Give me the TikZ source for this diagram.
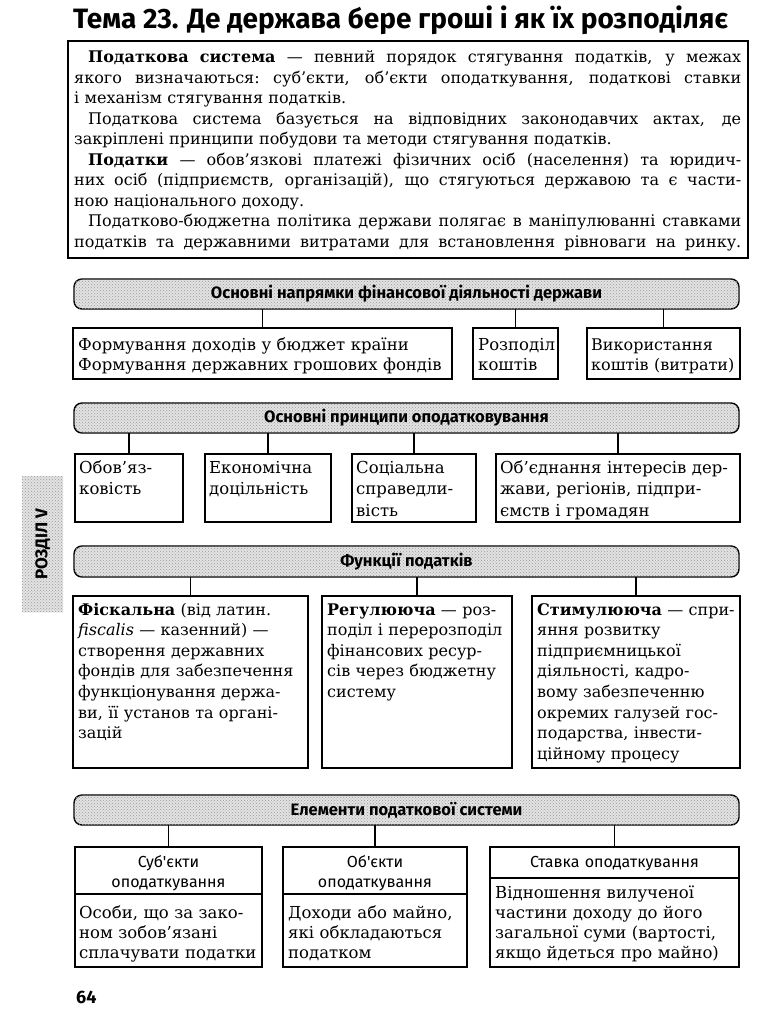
\documentclass[tikz,border=0pt]{standalone}
\usepackage{fontspec}
\setmainfont{DejaVu Serif}
\newfontfamily\hsans{Fira Sans}
\usetikzlibrary{patterns}
\newcommand\jl[1]{\leavevmode\hbox to 667pt{\spaceskip=0.3em plus 1fil\xspaceskip=0.32em plus 1fil\relax #1}}
\newcommand\jli[1]{\leavevmode\hbox to 667pt{\spaceskip=0.3em plus 1fil\xspaceskip=0.32em plus 1fil\relax\hskip14pt #1}}
\begin{document}
\begin{tikzpicture}[x=1pt,y=1pt,
  bar/.style={draw, line width=1.4pt, rounded corners=8pt, fill=gray!22,
    postaction={pattern=crosshatch dots, pattern color=black!40},
    anchor=north west, inner sep=0pt, outer sep=0pt, minimum height=30pt, minimum width=665pt},
  bartext/.style={font=\hsans\bfseries\fontsize{16.5}{18}\selectfont, inner sep=1pt},
  box/.style={draw, line width=1.1pt, anchor=north west, inner sep=0pt, outer sep=0pt},
  conn/.style={line width=1.2pt},
  txt/.style={anchor=base west, inner sep=0pt, text width=#1, align=left,
    font=\fontsize{16.5}{20.6}\selectfont},
  ttl/.style={anchor=base, inner sep=0pt, text width=#1, align=center,
    font=\hsans\fontsize{16}{20}\selectfont}
]
\fill[white] (0,0) rectangle (765,-1024);
\useasboundingbox (0,0) rectangle (765,-1024);

% title
\node[anchor=base west, inner sep=0pt, font=\hsans\bfseries\fontsize{28}{30}\selectfont] (title) at (73,-29) {Тема 23. Де держава бере гроші і як їх розподіляє};

% top text box
\node[box, minimum width=680pt, minimum height=217pt] (topbox) at (68,-41) {};
\node[anchor=base west, inner sep=0pt, text width=667pt, align=left,
  font=\fontsize{16}{20.5}\selectfont] (toptext) at (74,-63) {%
\jli{\textbf{Податкова система} — певний порядок стягування податків, у межах}\\
\jl{якого визначаються: суб'єкти, об'єкти оподаткування, податкові ставки}\\
і механізм стягування податків.\\
\jli{Податкова система базується на відповідних законодавчих актах, де}\\
закріплені принципи побудови та методи стягування податків.\\
\jli{\textbf{Податки} — обов'язкові платежі фізичних осіб (населення) та юридич-}\\
\jl{них осіб (підприємств, організацій), що стягуються державою та є части-}\\
ною національного доходу.\\
\jli{Податково-бюджетна політика держави полягає в маніпулюванні ставками}\\
\jl{податків та державними витратами для встановлення рівноваги на ринку.}};

% ---------- row 1
\node[bar] (bar1) at (74,-279) {};
\node[bartext] (bar1t) at (bar1.center) {Основні напрямки фінансової діяльності держави};
\node[box, minimum width=379pt, minimum height=51pt] (r1a) at (73,-328) {};
\node[box, minimum width=85pt, minimum height=51pt] (r1b) at (473,-328) {};
\node[box, minimum width=153pt, minimum height=51pt] (r1c) at (587,-328) {};
\node[txt=370pt] (r1at) at ([shift={(5pt,-22pt)}]r1a.north west) {Формування доходів у бюджет країни\\Формування державних грошових фондів};
\node[txt=80pt] (r1bt) at ([shift={(5pt,-22pt)}]r1b.north west) {Розподіл\\коштів};
\node[txt=150pt, font=\fontsize{16}{20.6}\selectfont] (r1ct) at ([shift={(4pt,-22pt)}]r1c.north west) {Використання\\коштів (витрати)};
\foreach \b in {r1a,r1b,r1c} \draw[conn] (\b.north) -- (\b.north |- bar1.south);

% ---------- row 2
\node[bar] (bar2) at (74,-403) {};
\node[bartext] (bar2t) at (bar2.center) {Основні принципи оподатковування};
\node[box, minimum width=108pt, minimum height=68pt] (r2a) at (75,-454) {};
\node[box, minimum width=126pt, minimum height=68pt] (r2b) at (205,-454) {};
\node[box, minimum width=124pt, minimum height=68pt] (r2c) at (352,-454) {};
\node[box, minimum width=244pt, minimum height=68pt] (r2d) at (496,-454) {};
\node[txt=104pt, font=\fontsize{16.5}{21.5}\selectfont] (r2at) at ([shift={(4pt,-19pt)}]r2a.north west) {Обов'яз-\\ковість};
\node[txt=122pt, font=\fontsize{16.5}{21.5}\selectfont] (r2bt) at ([shift={(4pt,-19pt)}]r2b.north west) {Економічна\\доцільність};
\node[txt=120pt, font=\fontsize{16.5}{21.5}\selectfont] (r2ct) at ([shift={(4pt,-19pt)}]r2c.north west) {Соціальна\\справедли-\\вість};
\node[txt=240pt, font=\fontsize{16.5}{21.5}\selectfont] (r2dt) at ([shift={(4pt,-19pt)}]r2d.north west) {Об'єднання інтересів дер-\\жави, регіонів, підпри-\\ємств і громадян};
\foreach \b in {r2a,r2b,r2c,r2d} \draw[conn] (\b.north) -- (\b.north |- bar2.south);

% ---------- row 3
\node[bar, minimum height=31pt] (bar3) at (74,-546) {};
\node[bartext] (bar3t) at (bar3.center) {Функції податків};
\node[box, minimum width=235pt, minimum height=172pt] (r3a) at (73,-596) {};
\node[box, minimum width=190pt, minimum height=172pt] (r3b) at (322,-596) {};
\node[box, minimum width=208pt, minimum height=172pt] (r3c) at (532,-596) {};
\node[txt=232pt, font=\fontsize{16}{20.6}\selectfont] (r3at) at ([shift={(5pt,-19pt)}]r3a.north west) {\textbf{Фіскальна} (від латин.\\\textit{fiscalis} — казенний) —\\створення державних\\фондів для забезпечення\\функціонування держа-\\ви, її установ та органі-\\зацій};
\node[txt=188pt, font=\fontsize{16}{20.6}\selectfont] (r3bt) at ([shift={(5pt,-19pt)}]r3b.north west) {\textbf{Регулююча} — роз-\\поділ і перерозподіл\\фінансових ресур-\\сів через бюджетну\\систему};
\node[txt=205pt, font=\fontsize{16}{20.6}\selectfont] (r3ct) at ([shift={(5pt,-19pt)}]r3c.north west) {\textbf{Стимулююча} — спри-\\яння розвитку\\підприємницької\\діяльності, кадро-\\вому забезпеченню\\окремих галузей гос-\\подарства, інвести-\\ційному процесу};
\foreach \b in {r3a,r3b,r3c} \draw[conn] (\b.north) -- (\b.north |- bar3.south);

% ---------- row 4
\node[bar] (bar4) at (74,-795) {};
\node[bartext] (bar4t) at (bar4.center) {Елементи податкової системи};
\node[box, minimum width=187pt, minimum height=120pt] (r4a) at (75,-847) {};
\node[box, minimum width=184pt, minimum height=120pt] (r4b) at (283,-847) {};
\node[box, minimum width=249pt, minimum height=120pt] (r4c) at (490,-847) {};
\draw[conn] ([yshift=-47pt]r4a.north west) -- ([yshift=-47pt]r4a.north east);
\draw[conn] ([yshift=-47pt]r4b.north west) -- ([yshift=-47pt]r4b.north east);
\draw[conn] ([yshift=-31pt]r4c.north west) -- ([yshift=-31pt]r4c.north east);
\node[ttl=180pt] (r4att) at ([yshift=-20pt]r4a.north) {Суб'єкти\\оподаткування};
\node[ttl=180pt] (r4btt) at ([yshift=-20pt]r4b.north) {Об'єкти\\оподаткування};
\node[ttl=240pt] (r4ctt) at ([yshift=-20pt]r4c.north) {Ставка оподаткування};
\node[txt=184pt, font=\fontsize{16.5}{20}\selectfont] (r4at) at ([shift={(4pt,-71pt)}]r4a.north west) {Особи, що за зако-\\ном зобов'язані\\сплачувати податки};
\node[txt=180pt, font=\fontsize{16.5}{20}\selectfont] (r4bt) at ([shift={(5pt,-71pt)}]r4b.north west) {Доходи або майно,\\які обкладаються\\податком};
\node[txt=245pt, font=\fontsize{16.5}{20}\selectfont] (r4ct) at ([shift={(5pt,-51pt)}]r4c.north west) {Відношення вилученої\\частини доходу до його\\загальної суми (вартості,\\якщо йдеться про майно)};
\foreach \b in {r4a,r4b,r4c} \draw[conn] (\b.north) -- (\b.north |- bar4.south);

% side tab
\node[anchor=north west, inner sep=0pt, minimum width=41pt, minimum height=136pt,
  fill=gray!22, postaction={pattern=crosshatch dots, pattern color=black!40}] (tab) at (22,-476) {};
\node[rotate=90, inner sep=0pt, font=\hsans\bfseries\fontsize{17}{20}\selectfont] (tabt) at (tab.center) {РОЗДІЛ V};

% page number
\node[anchor=base west, inner sep=0pt, font=\hsans\bfseries\fontsize{18}{20}\selectfont] (pnum) at (76,-1003) {64};
\end{tikzpicture}
\end{document}
